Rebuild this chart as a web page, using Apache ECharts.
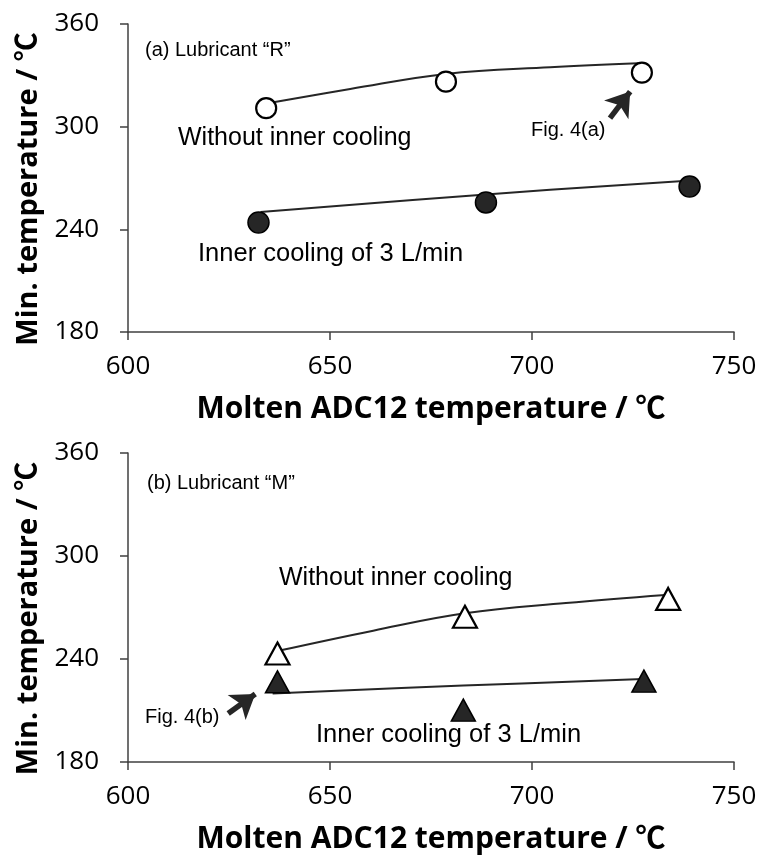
<!DOCTYPE html>
<html>
<head>
<meta charset="utf-8">
<script src="https://cdn.jsdelivr.net/npm/echarts@6/dist/echarts.min.js"></script>
<style>
html,body{margin:0;padding:0;background:#fff;}
#chart{width:767px;height:858px;}
</style>
</head>
<body>
<div id="chart"></div>
<script>
// ---- data ----
const xTicks = [600, 650, 700, 750];
const yTicks = [180, 240, 300, 360];

// (a) Lubricant "R"
const topOpenPts   = [[634.2, 310.8], [678.7, 326.3], [727.2, 331.6]];
const topOpenCurve = [[636, 314.3], [655, 322], [678.7, 330.8], [704.5, 334.7], [726.3, 337]];
const topFillPts   = [[632.3, 244], [688.6, 255.7], [739, 265]];
const topFillCurve = [[632.8, 250.1], [688.6, 260.4], [737.5, 268.3]];
const topArrow     = [[719.3, 305], [724.3, 320.5]];

// (b) Lubricant "M"
const botOpenPts   = [[637, 243.2], [683.4, 264.6], [733.7, 275]];
const botOpenCurve = [[637.5, 244.9], [660.7, 256.5], [683.4, 266.6], [708.4, 272.6], [733, 277.3]];
const botFillPts   = [[637, 226.7], [683, 210.2], [727.7, 227.1]];
const botFillCurve = [[635.8, 219.9], [683, 224.5], [727.5, 228.3]];
const botArrow     = [[624.8, 208.2], [631.5, 219.6]];

const xTitle = 'Molten ADC12 temperature / ℃';
const yTitle = 'Min. temperature / ℃';

// ---- styling ----
const INK = '#262626';
const AX = '#404040';
const labelFont = "'Open Sans', 'Liberation Sans', sans-serif";
const titleFont = "'Open Sans', 'Noto Sans CJK JP', 'DejaVu Sans', sans-serif";
const annFont = "'Liberation Sans', 'Open Sans', sans-serif";

function xAxisDef(gi) {
  return {
    type: 'value', gridIndex: gi, min: xTicks[0], max: xTicks[xTicks.length - 1], interval: 50,
    axisLine: {show: true, onZero: false, lineStyle: {color: AX, width: 1.5}},
    axisTick: {show: true, length: 8, lineStyle: {color: AX, width: 1.5}},
    splitLine: {show: false},
    axisLabel: {fontSize: 26, color: '#000', fontFamily: labelFont, margin: 22},
    name: xTitle, nameLocation: 'middle', nameGap: 62,
    nameTextStyle: {fontSize: 30, fontWeight: 'bold', color: '#000', fontFamily: titleFont}
  };
}
function yAxisDef(gi) {
  return {
    type: 'value', gridIndex: gi, min: yTicks[0], max: yTicks[yTicks.length - 1], interval: 60,
    axisLine: {show: true, onZero: false, lineStyle: {color: AX, width: 1.5}},
    axisTick: {show: true, length: 8, lineStyle: {color: AX, width: 1.5}},
    splitLine: {show: false},
    axisLabel: {fontSize: 26, color: '#000', fontFamily: labelFont, margin: 29},
    name: yTitle, nameLocation: 'middle', nameGap: 84, nameRotate: 90,
    nameTextStyle: {fontSize: 29, fontWeight: 'bold', color: '#000', fontFamily: titleFont, padding: [0, 22, 0, 0]}
  };
}
function curve(data, gi) {
  return {
    type: 'line', xAxisIndex: gi, yAxisIndex: gi, data: data, smooth: 0.4,
    showSymbol: false, symbol: 'none', silent: true, z: 2,
    lineStyle: {color: INK, width: 2}
  };
}
function points(data, gi, symbol, size, filled) {
  return {
    type: 'scatter', xAxisIndex: gi, yAxisIndex: gi, data: data, symbol: symbol, symbolSize: size,
    silent: true, z: 5,
    itemStyle: {color: filled ? INK : '#fff', borderColor: '#000', borderWidth: filled ? 1.5 : 2.2, opacity: 1}
  };
}
function arrow(pts, gi) {
  return {
    type: 'line', xAxisIndex: gi, yAxisIndex: gi, data: [], silent: true, z: 4,
    markLine: {
      silent: true, symbol: ['none', 'arrow'], symbolSize: 23,
      label: {show: false},
      lineStyle: {color: INK, width: 5.5, type: 'solid', opacity: 1},
      data: [[{coord: pts[0]}, {coord: pts[1]}]],
      animation: false
    }
  };
}
function txt(text, x, y, size) {
  return {type: 'text', x: x, y: y, silent: true,
    style: {text: text, fontSize: size, fontFamily: annFont, fill: '#000', verticalAlign: 'middle', align: 'left'}};
}

const chart = echarts.init(document.getElementById('chart'), null, {renderer: 'canvas'});
chart.setOption({
  animation: false,
  backgroundColor: '#fff',
  grid: [
    {left: 128, top: 24, width: 606, height: 308},
    {left: 128, top: 453, width: 606, height: 309}
  ],
  xAxis: [xAxisDef(0), xAxisDef(1)],
  yAxis: [yAxisDef(0), yAxisDef(1)],
  series: [
    curve(topOpenCurve, 0), curve(topFillCurve, 0),
    points(topOpenPts, 0, 'circle', 20, false),
    points(topFillPts, 0, 'circle', 21, true),
    arrow(topArrow, 0),
    curve(botOpenCurve, 1), curve(botFillCurve, 1),
    points(botOpenPts, 1, 'triangle', [24, 22], false),
    points(botFillPts, 1, 'triangle', [24, 22], true),
    arrow(botArrow, 1)
  ],
  graphic: [
    txt('(a) Lubricant “R”', 145, 50, 20),
    txt('Without inner cooling', 178, 138, 25),
    txt('Fig. 4(a)', 531, 130, 20),
    txt('Inner cooling of 3 L/min', 198, 254, 25.5),
    txt('(b) Lubricant “M”', 147, 483, 20),
    txt('Without inner cooling', 279, 578, 25),
    txt('Fig. 4(b)', 145, 717, 20),
    txt('Inner cooling of 3 L/min', 316, 735, 25.5)
  ]
});
</script>
</body>
</html>
